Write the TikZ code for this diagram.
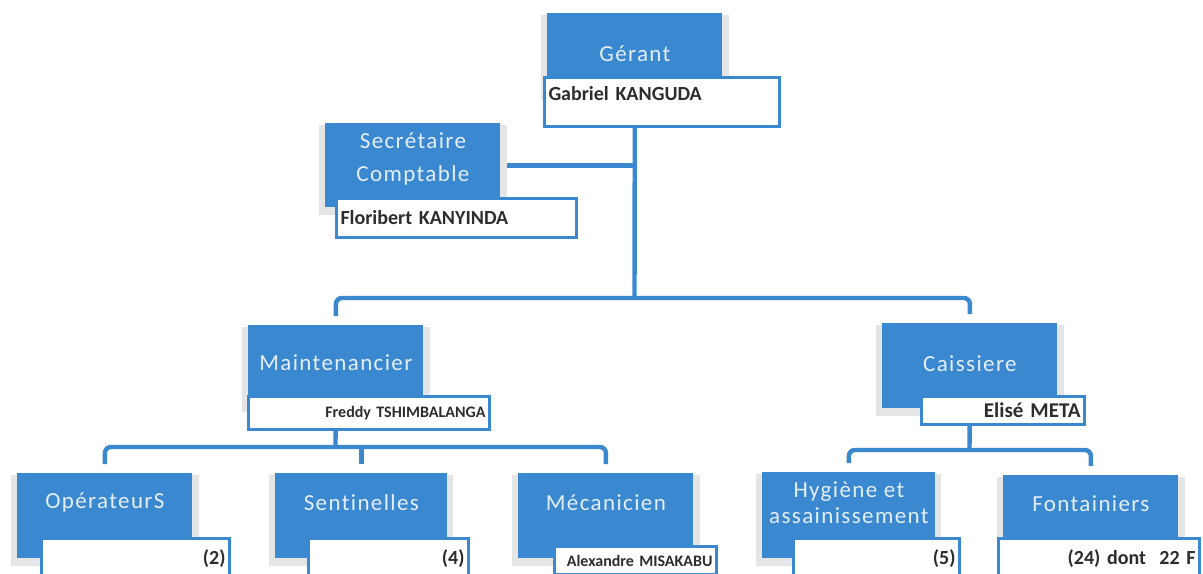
\documentclass[tikz,border=0pt]{standalone}
\usepackage{fontspec}
\setmainfont{Carlito}
\newfontfamily\titlefont[LetterSpace=6, Ligatures={NoCommon}]{Carlito}
\usetikzlibrary{backgrounds,shadows}
\definecolor{postblue}{RGB}{58,136,208}
\definecolor{posttext}{RGB}{228,238,248}
\definecolor{nametext}{RGB}{45,45,45}
\tikzset{
  post/.style={fill=postblue, anchor=north west, minimum width=87.5pt, inner sep=0pt,
    general shadow={fill=black!10, shadow scale=1.07, shadow yshift=-2pt}},
  ptext/.style={text=posttext, font=\titlefont\fontsize{11.5}{13}\selectfont, align=center},
  namebox/.style={draw=postblue, line width=1.5pt, fill=white, anchor=north west,
    inner xsep=2pt, inner ysep=0pt, text=nametext, align=right,
    font=\bfseries\fontsize{10}{12}\selectfont},
  link/.style={draw=postblue, line width=2.2pt, rounded corners=3pt},
}
\begin{document}
\begin{tikzpicture}[x=0.5pt, y=-0.5pt]
  \useasboundingbox (0,0) rectangle (1203,573);
  \node[post, minimum height=40pt, label={[ptext]center:Gérant}] (gerant) at (547,13) {};
  \node[namebox, text width=113.5pt, minimum height=24.5pt, align=left, text depth=9pt] (gerantN) at (543,76) {Gabriel KANGUDA};

  \node[post, minimum height=42pt, label={[ptext, yshift=3.25pt]center:Secrétaire\\[3.5pt]Comptable}] (secr) at (325,123) {};
  \node[namebox, text width=116pt, minimum height=19.5pt, align=left] (secrN) at (335,197) {Floribert KANYINDA};

  \node[post, minimum height=40pt, label={[ptext, yshift=1.5pt]center:Maintenancier}] (maint) at (248,325) {};
  \node[namebox, text width=116.5pt, minimum height=16.5pt, font=\bfseries\fontsize{8}{10}\selectfont] (maintN) at (247,395) {Freddy TSHIMBALANGA};

  \node[post, minimum height=42.5pt, label={[ptext, yshift=1.25pt]center:Caissiere}] (caiss) at (882,323) {};
  \node[namebox, text width=77.5pt, minimum height=14pt, font=\bfseries\fontsize{10.5}{12}\selectfont] (caissN) at (920,395) {Elisé META};

  \node[post, minimum height=42.5pt, label={[ptext, yshift=6.75pt]center:OpérateurS}] (oper) at (17,473) {};
  \node[namebox, text width=90pt, minimum height=20pt] (operN) at (40,537) {(2)};

  \node[post, minimum width=86pt, minimum height=42.5pt, label={[ptext, yshift=6.75pt]center:Sentinelles}] (sent) at (275,473) {};
  \node[namebox, text width=76pt, minimum height=20pt] (sentN) at (307,537) {(4)};

  \node[post, minimum height=42.5pt, label={[ptext, yshift=6.75pt]center:Mécanicien}] (meca) at (518,473) {};
  \node[namebox, text width=77pt, minimum height=14pt, font=\bfseries\fontsize{8}{10}\selectfont] (mecaN) at (553,545) {Alexandre MISAKABU};

  \node[post, minimum width=86.5pt, minimum height=43pt, label={[ptext, yshift=6.25pt]center:Hygiène et\\assainissement}] (hyg) at (762,472) {};
  \node[namebox, text width=79pt, minimum height=20pt] (hygN) at (792,537) {(5)};

  \node[post, minimum height=42pt, label={[ptext, yshift=7pt]center:Fontainiers}] (font) at (1003,475) {};
  \node[namebox, text width=96.5pt, minimum height=20pt] (fontN) at (997,537) {(24) dont \ 22 F};

  \coordinate (hubA) at (634.5,298);
  \coordinate (hubB) at (335.5,447);
  \coordinate (hubC) at (969.5,450);

  \begin{scope}[on background layer]
    \draw[link] (gerant) -- (hubA);
    \draw[link] (secr.east) -- (secr -| gerant);
    \draw[link, shorten <=4.5pt, shorten >=4.5pt] (maint.north) |- (hubA) -| (caiss.north);
    \draw[link] (maint) -- (hubB);
    \draw[link, shorten <=4.5pt, shorten >=4.5pt] (oper.north) |- (hubB) -| (meca.north);
    \draw[link, shorten >=4.5pt] (hubB -| sent) -- (sent.north);
    \draw[link] (caiss) -- (hubC);
    \draw[link, shorten <=4.5pt, shorten >=4.5pt] (hyg.north) |- (hubC) -| (font.north);
  \end{scope}
\end{tikzpicture}
\end{document}
